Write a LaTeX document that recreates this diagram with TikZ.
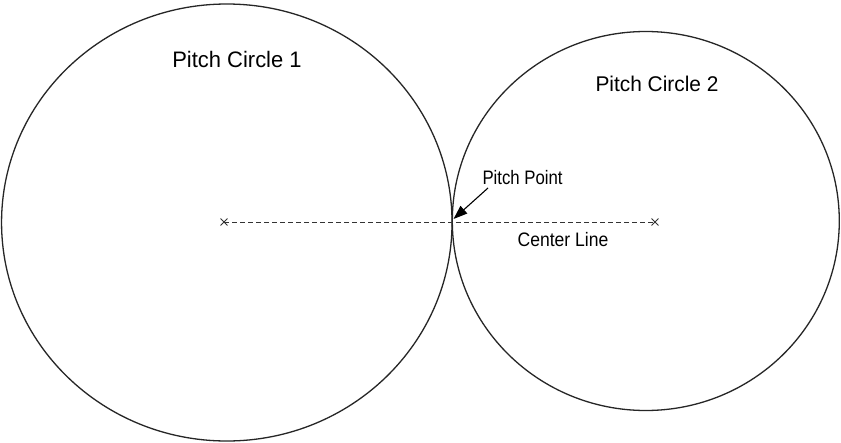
\documentclass[tikz,border=0pt]{standalone}
\usepackage{fontspec}
\setmainfont{Liberation Sans}
\newfontfamily\titlefont[FakeStretch=0.98]{Liberation Sans}
\newfontfamily\narrowfont[FakeStretch=0.86]{Liberation Sans}
\newfontfamily\clfont[FakeStretch=0.9]{Liberation Sans}
\usetikzlibrary{shapes.geometric,shapes.misc,arrows.meta}
\begin{document}
\begin{tikzpicture}[x=1pt,y=-1pt,
  pitchcircle/.style={draw=black!85, line width=1.3pt, ellipse, inner sep=0pt},
  centermark/.style={cross out, draw=black!80, line width=0.9pt, minimum size=6pt, inner sep=0pt},
  titletext/.style={font=\titlefont\fontsize{22.4}{26}\selectfont, anchor=base, inner sep=0pt},
  smalltext/.style={font=\narrowfont\fontsize{19.5}{23}\selectfont, anchor=base, inner sep=0pt},
  centerline/.style={draw=black!80, line width=0.8pt, dash pattern=on 5pt off 3pt},
  pointer/.style={draw=black, line width=1.1pt, -{Triangle[length=14pt,width=10pt]}}]
\useasboundingbox (0,0) rectangle (841,442);
\fill[white] (0,0) rectangle (841,442);
\node[pitchcircle, minimum width=450.5pt, minimum height=437pt] (c1) at (226.8,222.5) {};
\node[pitchcircle, minimum width=387pt, minimum height=379pt] (c2) at (645.8,221) {};
\node[centermark] (m1) at (224,222) {};
\node[centermark] (m2) at (655,222) {};
\draw[centerline] (m1.center) -- (m2.center);
\coordinate (pp) at (453.5,219);
\node[titletext] (t1) at (237,67.7) {Pitch Circle 1};
\node[titletext, font=\titlefont\fontsize{21.3}{25}\selectfont] (t2) at (657,91) {Pitch Circle 2};
\node[smalltext, anchor=base west] (ppl) at (482.3,184) {Pitch Point};
\node[smalltext, font=\clfont\fontsize{19.5}{23}\selectfont] (cl) at (563,246) {Center Line};
\coordinate (ps) at (488,188);
\draw[pointer] (ps) -- (pp);
\end{tikzpicture}
\end{document}
